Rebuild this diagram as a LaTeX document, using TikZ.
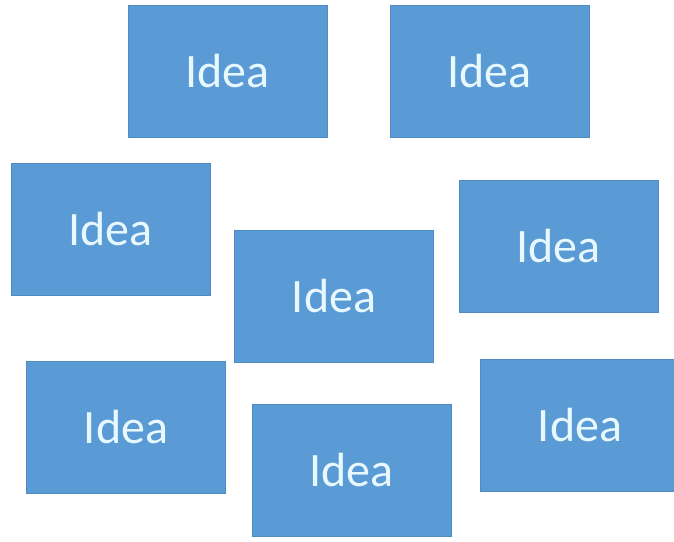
\documentclass[tikz,border=0pt]{standalone}
\usepackage{fontspec}
\setmainfont{Carlito}
\definecolor{ideablue}{HTML}{5B9BD5}
\definecolor{ideaedge}{HTML}{4F8CC4}
\definecolor{ideatext}{HTML}{E8F8FF}
\tikzset{idea/.style={draw=ideaedge,line width=.8pt,fill=ideablue,
  minimum width=199pt,minimum height=132pt,inner sep=0pt,
  text=ideatext,font=\fontsize{48}{58}\selectfont}}

\begin{document}
\begin{tikzpicture}[x=1pt,y=-1pt]
\useasboundingbox (0,0) rectangle (674,541);
\node[idea] (I1) at (227.5,71.5) {Idea};
\node[idea] (I2) at (489.5,71.5) {Idea};
\node[idea] (I3) at (110.5,229) {Idea};
\node[idea] (I4) at (558.5,246) {Idea};
\node[idea] (I5) at (334,296) {Idea};
\node[idea] (I6) at (126,427) {Idea};
\node[idea] (I7) at (351.5,470.5) {Idea};
\node[idea] (I8) at (580,425) {Idea};
\end{tikzpicture}
\end{document}
